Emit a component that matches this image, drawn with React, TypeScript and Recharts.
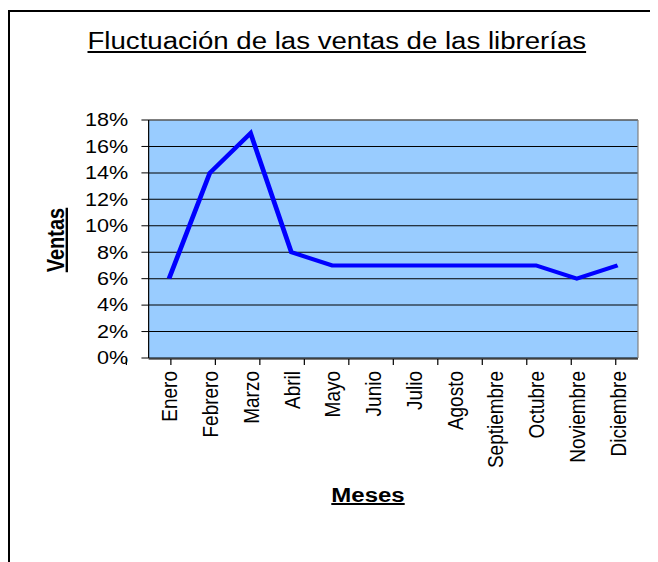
import React from 'react';
import { LineChart, Line, XAxis, YAxis, CartesianGrid } from 'recharts';

const meses = ['Enero', 'Febrero', 'Marzo', 'Abril', 'Mayo', 'Junio', 'Julio', 'Agosto', 'Septiembre', 'Octubre', 'Noviembre', 'Diciembre'];
const ventas = [6, 14, 17, 8, 7, 7, 7, 7, 7, 7, 6, 7];
const ventasTicks = [0, 2, 4, 6, 8, 10, 12, 14, 16, 18];

const data = meses.map((mes, i) => ({ idx: i, mes, ventas: ventas[i] }));
const centerTicks = meses.map((_, i) => i);
const edgeTicks = [...meses.map((_, i) => i - 0.5), meses.length - 0.5];
const xDomain = [-0.5, meses.length - 0.5];

const FONT = '"Liberation Sans", Arial, sans-serif';
// the reference is stretched horizontally, so the chart is drawn narrower and scaled
const STRETCH = 1.2;
const W = 650 / STRETCH;
const H = 554;

const MesTick = (props: any) => {
  const { x, y, payload } = props;
  const tx = x + 6.8;
  const ty = y + 13;
  return (
    <text x={tx} y={ty} transform={`rotate(-90 ${tx} ${ty})`} textAnchor="end"
      fontSize={19} fontFamily={FONT} fill="#000">
      {meses[payload.value]}
    </text>
  );
};

// tick marks between months only, no label
const EmptyTick = () => <g />;

export default function App() {
  return (
    <div style={{ position: 'relative', width: 650, height: 554, overflow: 'hidden' }}>
      <div style={{
        position: 'absolute', left: 0, top: 2, width: 650, height: 552,
        borderTop: '2px solid #000', borderLeft: '2px solid #000', boxSizing: 'border-box'
      }} />
      <div style={{ position: 'absolute', left: 0, top: 0, width: W, height: H, transform: `scaleX(${STRETCH})`, transformOrigin: '0 0' }}>
        <div style={{
          position: 'absolute', left: 0, top: 22, width: 548, textAlign: 'center',
          fontFamily: FONT, fontSize: 23, lineHeight: '23px', textDecoration: 'underline', whiteSpace: 'nowrap'
        }}>
          Fluctuación de las ventas de las librerías
        </div>
        <div style={{
          position: 'absolute', left: 40, top: 232, transform: 'translate(-50%,-50%) rotate(-90deg)',
          fontFamily: FONT, fontSize: 20, lineHeight: '20px', fontWeight: 'bold', textDecoration: 'underline', whiteSpace: 'nowrap'
        }}>
          Ventas
        </div>
        <div style={{
          position: 'absolute', left: 300, top: 477, transform: 'translateX(-50%)',
          fontFamily: FONT, fontSize: 20, lineHeight: '20px', fontWeight: 'bold', textDecoration: 'underline', whiteSpace: 'nowrap'
        }}>
          Meses
        </div>
        <LineChart width={W} height={H} data={data}
          margin={{ top: 111, right: W - 526, bottom: 202, left: 0 }}>
          <CartesianGrid xAxisId="cat" vertical={false} stroke="#000" fill="#99CCFF" fillOpacity={1} />
          <XAxis xAxisId="edges" type="number" domain={xDomain} ticks={edgeTicks} interval={0} height={1}
            tick={<EmptyTick />} tickSize={6} tickLine={{ stroke: '#000' }} axisLine={{ stroke: '#000' }} />
          <XAxis xAxisId="cat" type="number" dataKey="idx" domain={xDomain} ticks={centerTicks} interval={0}
            height={1} tickSize={0} tickMargin={0} tickLine={false} axisLine={false} tick={<MesTick />} />
          <XAxis xAxisId="top" orientation="top" type="number" domain={xDomain} height={1}
            tick={false} tickLine={false} axisLine={{ stroke: '#808080' }} />
          <YAxis domain={[0, 18]} ticks={ventasTicks} interval={0} width={117.2}
            tickFormatter={(v: number) => `${v}%`} tickSize={6} tickMargin={11}
            tick={{ fill: '#000', fontSize: 18, fontFamily: FONT }}
            tickLine={{ stroke: '#000' }} axisLine={{ stroke: '#000' }} />
          <YAxis yAxisId="right" orientation="right" domain={[0, 18]} width={1}
            tick={false} tickLine={false} axisLine={{ stroke: '#808080' }} />
          <Line xAxisId="cat" type="linear" dataKey="ventas" stroke="#0000FF" strokeWidth={4}
            dot={false} activeDot={false} isAnimationActive={false} />
        </LineChart>
      </div>
    </div>
  );
}
